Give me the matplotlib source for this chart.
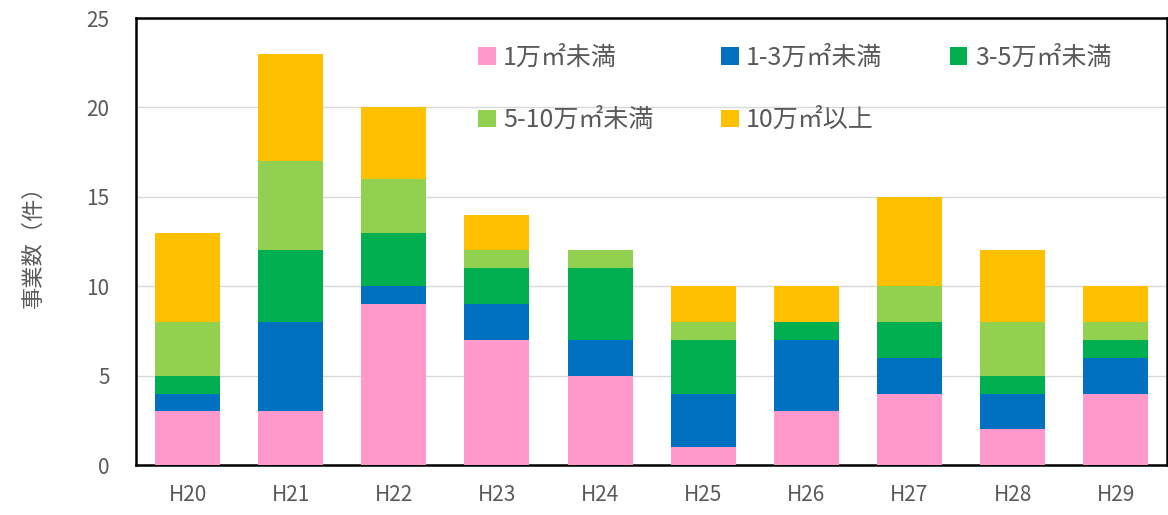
import numpy as np
import matplotlib.pyplot as plt

plt.rcParams['font.family'] = ['Noto Sans CJK JP', 'DejaVu Sans']

years = ['H20', 'H21', 'H22', 'H23', 'H24', 'H25', 'H26', 'H27', 'H28', 'H29']
under_1 = [3, 3, 9, 7, 5, 1, 3, 4, 2, 4]
from_1_3 = [1, 5, 1, 2, 2, 3, 4, 2, 2, 2]
from_3_5 = [1, 4, 3, 2, 4, 3, 1, 2, 1, 1]
from_5_10 = [3, 5, 3, 1, 1, 1, 0, 2, 3, 1]
over_10 = [5, 6, 4, 2, 0, 2, 2, 5, 4, 2]

labels = ['1万㎡未満', '1-3万㎡未満', '3-5万㎡未満', '5-10万㎡未満', '10万㎡以上']
colors = ['#FF99CC', '#0070C0', '#00B050', '#92D050', '#FFC000']
series = [under_1, from_1_3, from_3_5, from_5_10, over_10]

fig = plt.figure(figsize=(11.68, 5.15), dpi=100)
ax = fig.add_axes([0.1164, 0.097, 0.883, 0.868])

x = np.arange(len(years))
bottom = np.zeros(len(years))
handles = []
for vals, col, lab in zip(series, colors, labels):
    b = ax.bar(x, vals, 0.63, bottom=bottom, color=col, label=lab, zorder=3)
    handles.append(b)
    bottom += np.array(vals)

ax.set_xlim(-0.5, len(years) - 0.5)
ax.set_ylim(0, 25)
ax.set_yticks(range(0, 26, 5))
ax.set_xticks(x)
ax.set_xticklabels(years)
ax.yaxis.grid(True, color='#D9D9D9', linewidth=1, zorder=0)
ax.tick_params(length=0, colors='#595959', labelsize=15)
ax.tick_params(axis='x', pad=14)
ax.tick_params(axis='y', pad=19)
for s in ['left', 'top', 'bottom', 'right']:
    ax.spines[s].set_color('black')
    ax.spines[s].set_linewidth(1.8)

ax.set_ylabel('事業数（件）', fontsize=16, color='#595959', labelpad=30)

# legend rows: matplotlib fills columns first, so reorder
order = [0, 3, 1, 4, 2]
leg = ax.legend([handles[i] for i in order], [labels[i] for i in order],
                ncol=3, frameon=False, loc='upper left',
                bbox_to_anchor=(0.31, 0.99), fontsize=18,
                handlelength=0.7, handleheight=0.7, handletextpad=0.3,
                columnspacing=2.7, labelspacing=1.45)
for t in leg.get_texts():
    t.set_color('#595959')

fig.savefig('out.png', dpi=100)
